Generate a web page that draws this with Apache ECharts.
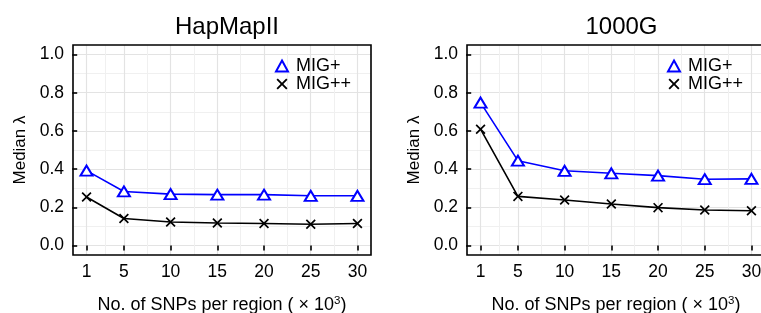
<!DOCTYPE html>
<html>
<head>
<meta charset="utf-8">
<script src="https://cdn.jsdelivr.net/npm/echarts@6/dist/echarts.min.js"></script>
<style>
  html, body { margin: 0; padding: 0; background: #fff; }
  #chart { width: 761px; height: 313px; }
</style>
</head>
<body>
<div id="chart"></div>
<script>
// x positions (thousands of SNPs per region)
const snps = [1, 5, 10, 15, 20, 25, 30];
const xTicks = [1, 5, 10, 15, 20, 25, 30];
const xMinor = [3, 7.5, 12.5, 17.5, 22.5, 27.5];
const yTicks = [0, 0.2, 0.4, 0.6, 0.8, 1.0];
const yMinor = [0.1, 0.3, 0.5, 0.7, 0.9];

const panels = ['HapMapII', '1000G'];
const seriesNames = ['MIG+', 'MIG++'];

// median lambda
const hapMigPlus = [0.392, 0.283, 0.269, 0.266, 0.266, 0.260, 0.260];
const hapMigPlusPlus = [0.254, 0.141, 0.123, 0.118, 0.115, 0.111, 0.115];
const kgMigPlus = [0.748, 0.444, 0.391, 0.378, 0.366, 0.347, 0.349];
const kgMigPlusPlus = [0.609, 0.257, 0.238, 0.217, 0.198, 0.186, 0.182];

const FONT = '"Liberation Sans", Arial, Helvetica, sans-serif';
const BLUE = '#0000ff';
const CROSS = 'path://M0,1.2L1.2,0L5,3.8L8.8,0L10,1.2L6.2,5L10,8.8L8.8,10L5,6.2L1.2,10L0,8.8L3.8,5Z';

const chart = echarts.init(document.getElementById('chart'));

const grids = [
  { left: 73, top: 45, width: 298, height: 210 },
  { left: 467, top: 45, width: 298, height: 210 }
];

const pairs = (ys) => snps.map((x, i) => [x, ys[i]]);
const data = [[hapMigPlus, hapMigPlusPlus], [kgMigPlus, kgMigPlusPlus]];

const xAxis = [];
const yAxis = [];
const series = [];
const title = [];
const legend = [];

grids.forEach((g, gi) => {
  // main x axis
  xAxis.push({
    type: 'value', gridIndex: gi, min: -0.45, max: 31.45,
    axisLine: { show: false },
    axisTick: { show: true, length: 5, customValues: xTicks, lineStyle: { color: '#000', width: 1.6 } },
    axisLabel: { customValues: xTicks, margin: 8, color: '#000', fontSize: 17.5, fontFamily: FONT },
    splitLine: { show: true, lineStyle: { color: '#e3e3e3', width: 1.2 } },
    name: '{a|No. of SNPs per region ( \u00d7 10}{b|3}{a|)}',
    nameLocation: 'middle', nameGap: 40,
    nameTextStyle: {
      rich: {
        a: { fontSize: 18, fontFamily: FONT, color: '#000' },
        b: { fontSize: 11.5, fontFamily: FONT, color: '#000', padding: [0, 0, 9, 0] }
      }
    }
  });
  // minor x grid
  xAxis.push({
    type: 'value', gridIndex: gi, min: -0.45, max: 31.45,
    axisLine: { show: false },
    axisTick: { show: false, customValues: xMinor },
    axisLabel: { show: false, customValues: xMinor },
    splitLine: { show: true, lineStyle: { color: '#f0f0f0', width: 1 } }
  });
  yAxis.push({
    type: 'value', gridIndex: gi, min: -0.05, max: 1.05,
    axisLine: { show: false },
    axisTick: { show: true, length: 5, customValues: yTicks, lineStyle: { color: '#000', width: 1.6 } },
    axisLabel: {
      customValues: yTicks, margin: 9, color: '#000', fontSize: 17.5, fontFamily: FONT,
      formatter: (v) => v.toFixed(1)
    },
    splitLine: { show: true, lineStyle: { color: '#e3e3e3', width: 1.2 } },
    name: 'Median \u03bb', nameLocation: 'middle', nameGap: 44,
    nameTextStyle: { fontSize: 17, fontFamily: FONT, color: '#000' }
  });
  yAxis.push({
    type: 'value', gridIndex: gi, min: -0.05, max: 1.05,
    axisLine: { show: false },
    axisTick: { show: false, customValues: yMinor },
    axisLabel: { show: false, customValues: yMinor },
    splitLine: { show: true, lineStyle: { color: '#f0f0f0', width: 1 } }
  });

  series.push({
    name: 'MIG+', type: 'line', xAxisIndex: gi * 2, yAxisIndex: gi * 2,
    data: pairs(data[gi][0]),
    symbol: 'triangle', symbolSize: [12, 10],
    lineStyle: { color: BLUE, width: 1.6 },
    itemStyle: { color: '#fff', borderColor: BLUE, borderWidth: 2 },
    z: 3
  });
  series.push({
    name: 'MIG++', type: 'line', xAxisIndex: gi * 2, yAxisIndex: gi * 2,
    data: pairs(data[gi][1]),
    symbol: CROSS, symbolSize: 10,
    lineStyle: { color: '#000', width: 1.6 },
    itemStyle: { color: '#000' },
    z: 3
  });

  title.push({
    text: panels[gi],
    left: g.left + (gi === 0 ? 149 : 149.5), top: 10, textAlign: 'center',
    textStyle: { fontSize: 24, fontWeight: 'normal', fontFamily: FONT, color: '#000' }
  });

  legend.push({
    orient: 'vertical',
    left: gi === 0 ? 270 : 662, top: 52,
    itemWidth: 12, itemHeight: 11, itemGap: 0,
    selectedMode: false,
    textStyle: { fontSize: 18, fontFamily: FONT, color: '#000', lineHeight: 17, padding: [0, 0, 0, 3] },
    data: [
      { name: 'MIG+', icon: 'triangle', itemStyle: { color: '#fff', borderColor: BLUE, borderWidth: 2 } },
      { name: 'MIG++', icon: CROSS, itemStyle: { color: '#000', borderWidth: 0 } }
    ]
  });
});

chart.setOption({
  animation: false,
  title: title,
  legend: legend,
  grid: grids.map(g => Object.assign({
    show: true, borderColor: '#000', borderWidth: 1.6, backgroundColor: 'transparent', z: 4,
    containLabel: false, outerBoundsMode: 'none'
  }, g)),
  xAxis: xAxis,
  yAxis: yAxis,
  series: series
});
</script>
</body>
</html>
